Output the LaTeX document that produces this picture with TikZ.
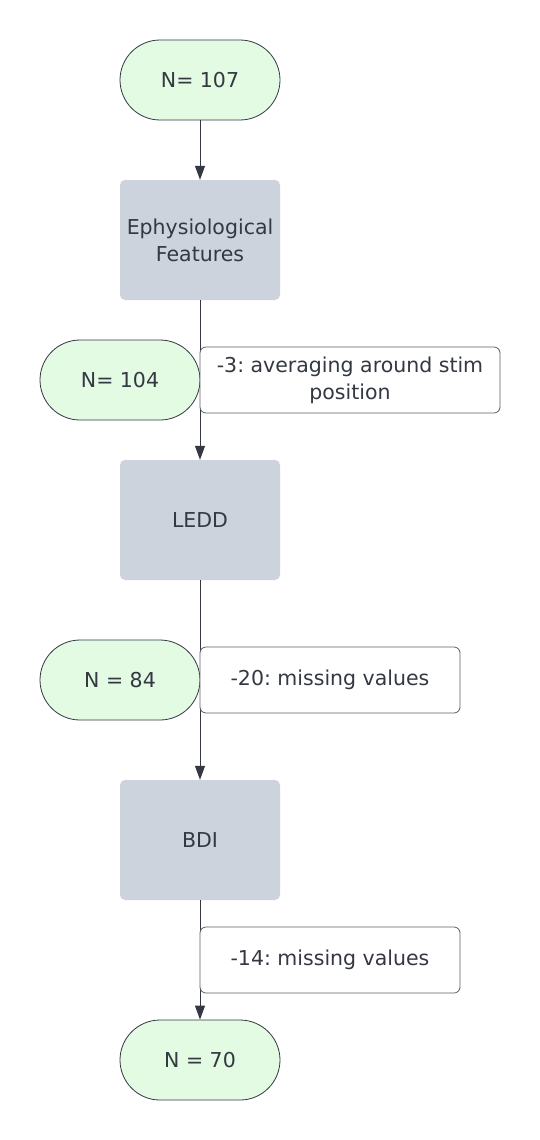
\documentclass[tikz,border=0pt]{standalone}
\usepackage{fontspec}
\setmainfont{DejaVu Sans}
\usetikzlibrary{arrows.meta}
\definecolor{termfill}{HTML}{E3FAE3}
\definecolor{procfill}{HTML}{CDD3DC}
\definecolor{ink}{HTML}{333842}
\definecolor{edgegray}{HTML}{5A5F66}
\tikzset{
  term/.style={draw=ink, line width=0.8pt, fill=termfill, minimum width=160pt, minimum height=80pt, rounded corners=40pt, inner sep=0pt, text=ink, font=\fontsize{20.5}{24}\selectfont, align=center},
  proc/.style={fill=procfill, minimum width=160pt, minimum height=120pt, rounded corners=5pt, inner sep=0pt, text=ink, font=\fontsize{20.5}{27}\selectfont, align=center},
  note/.style={draw=edgegray, line width=0.8pt, fill=white, rounded corners=6pt, inner sep=0pt, text=ink, font=\fontsize{20.5}{27}\selectfont, align=center, minimum height=66pt},
  flow/.style={draw=ink, line width=1pt, -{Triangle[width=10pt,length=14pt]}}
}
\begin{document}
\frenchspacing
\begin{tikzpicture}[x=1pt,y=-1pt]
\useasboundingbox (0,0) rectangle (540,1140);
\node[term] (n107) at (200,80) {N= 107};
\node[proc] (ephys) at (200,240) {Ephysiological\\Features};
\node[proc] (ledd) at (200,520) {LEDD};
\node[proc] (bdi) at (200,840) {BDI};
\node[term] (n70) at (200,1060) {N = 70};
\draw[flow] (n107) -- (ephys);
\draw[flow] (ephys) -- (ledd);
\draw[flow] (ledd) -- (bdi);
\draw[flow] (bdi) -- (n70);
\node[term] (n104) at (120,380) {N= 104};
\node[note, minimum width=300pt] (c3) at (350,380) {-3: averaging around stim\\position};
\node[term] (n84) at (120,680) {N = 84};
\node[note, minimum width=260pt] (c20) at (330,680) {-20: missing values};
\node[note, minimum width=260pt] (c14) at (330,960) {-14: missing values};
\end{tikzpicture}
\end{document}
